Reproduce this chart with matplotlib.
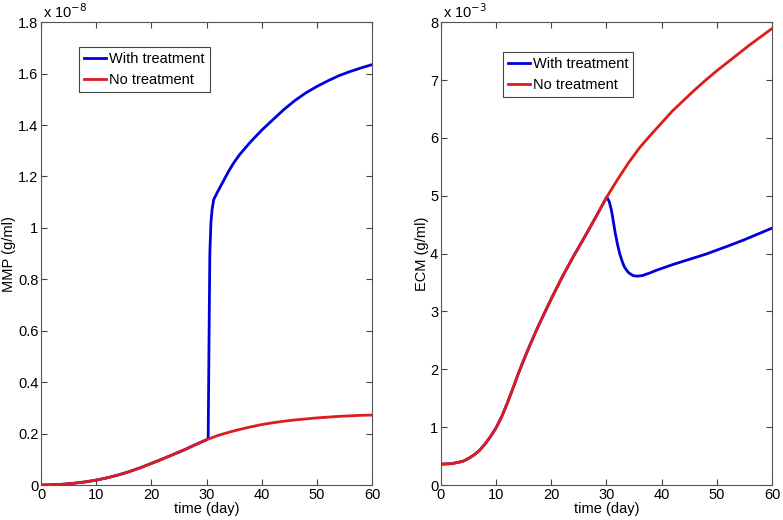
import matplotlib
matplotlib.use("Agg")
import matplotlib.pyplot as plt

plt.rcParams['font.family'] = ['Liberation Sans', 'DejaVu Sans']

# time grid (days) for the untreated MMP curve
t = [0, 2, 4, 6, 8, 10, 12, 14, 16, 18, 20, 22, 24, 26, 28, 30,
     32, 34, 36, 38, 40, 42, 44, 46, 48, 50, 52, 54, 56, 58, 60]

# MMP, units of 1e-8 g/ml
mmp_no = [0, 0.001, 0.003, 0.007, 0.012, 0.019, 0.028, 0.039, 0.052, 0.067, 0.084,
          0.101, 0.119, 0.137, 0.157, 0.176, 0.192, 0.205, 0.216, 0.226, 0.235,
          0.242, 0.248, 0.253, 0.257, 0.261, 0.264, 0.267, 0.269, 0.271, 0.272]
t_mmp_tr = [30.3, 30.45, 30.6, 30.8, 31.0, 31.3, 32, 33, 34, 35, 36, 38, 40, 42,
            44, 46, 48, 50, 52, 54, 56, 58, 60]
mmp_tr = [0.181, 0.55, 0.9, 1.02, 1.07, 1.11, 1.14, 1.18, 1.22, 1.255, 1.285,
          1.335, 1.38, 1.42, 1.46, 1.495, 1.525, 1.55, 1.572, 1.592, 1.608, 1.622, 1.635]

# ECM, units of 1e-3 g/ml
t_ecm = [0, 2, 4, 5, 6, 7, 8, 9, 10, 11, 12, 13, 14, 15, 16, 17, 18, 20, 22, 24,
         26, 28, 30, 32, 34, 36, 38, 40, 42, 44, 46, 48, 50, 52, 54, 56, 58, 60]
ecm_no = [0.36, 0.37, 0.41, 0.46, 0.52, 0.60, 0.71, 0.84, 0.99, 1.18, 1.41, 1.66,
          1.92, 2.16, 2.39, 2.61, 2.82, 3.22, 3.60, 3.95, 4.28, 4.62, 4.97, 5.28,
          5.57, 5.83, 6.05, 6.26, 6.47, 6.65, 6.83, 7.00, 7.16, 7.31, 7.46, 7.61,
          7.75, 7.89]
t_ecm_tr = [30.1, 30.5, 30.9, 31.2, 31.6, 32.0, 32.4, 32.9, 33.3, 34, 34.8, 35.5,
            36.5, 38, 39, 42, 45, 48, 50, 52, 55, 58, 60]
ecm_tr = [4.97, 4.9, 4.75, 4.58, 4.35, 4.16, 4.0, 3.85, 3.76, 3.67, 3.62, 3.61,
          3.62, 3.67, 3.71, 3.81, 3.9, 3.99, 4.06, 4.13, 4.24, 4.36, 4.44]

xticks = [0, 10, 20, 30, 40, 50, 60]
mmp_yticks = [0, 0.2, 0.4, 0.6, 0.8, 1, 1.2, 1.4, 1.6, 1.8]
ecm_yticks = [0, 1, 2, 3, 4, 5, 6, 7, 8]

BLUE = '#0000dd'
RED = '#dd1c1c'
FS = 10.5

fig = plt.figure(figsize=(7.83, 5.2), dpi=100)
ax1 = fig.add_axes([0.0524, 0.0673, 0.4227, 0.890])
ax2 = fig.add_axes([0.5632, 0.0673, 0.4227, 0.890])

# treated curves follow the untreated ones until day 30
n1 = len([x for x in t if x <= 30])
n2 = len([x for x in t_ecm if x <= 30])

ax1.plot(t[:n1] + t_mmp_tr, mmp_no[:n1] + mmp_tr, color=BLUE, lw=2, label='With treatment')
ax1.plot(t, mmp_no, color=RED, lw=2, label='No treatment')
ax2.plot(t_ecm[:n2] + t_ecm_tr, ecm_no[:n2] + ecm_tr, color=BLUE, lw=2, label='With treatment')
ax2.plot(t_ecm, ecm_no, color=RED, lw=2, label='No treatment')


def style(ax, yticks, ylabel, expo, leg_xy):
    ax.set_xlim(0, 60)
    ax.set_ylim(yticks[0], yticks[-1])
    ax.set_xticks(xticks)
    ax.set_yticks(yticks)
    ax.set_yticklabels(['%g' % v for v in yticks])
    ax.tick_params(direction='in', top=True, right=True, length=4,
                   labelsize=FS, color='#444444', pad=2)
    for s in ax.spines.values():
        s.set_color('#555555')
        s.set_linewidth(0.8)
    ax.set_xlabel('time (day)', fontsize=FS, labelpad=0)
    ax.set_ylabel(ylabel, fontsize=FS, labelpad=1)
    ax.text(0.005, 1.003, r'x 10$^{%d}$' % expo, transform=ax.transAxes,
            fontsize=FS, ha='left', va='bottom')
    leg = ax.legend(loc='upper left', bbox_to_anchor=leg_xy, fontsize=FS,
                    fancybox=False, framealpha=1, edgecolor='#444444',
                    handlelength=1.5, handletextpad=0.2, borderpad=0.35,
                    labelspacing=0.45, borderaxespad=0)
    leg.get_frame().set_linewidth(0.8)


style(ax1, mmp_yticks, 'MMP (g/ml)', -8, (0.115, 0.946))
style(ax2, ecm_yticks, 'ECM (g/ml)', -3, (0.187, 0.935))

fig.savefig('out.png', dpi=100)
